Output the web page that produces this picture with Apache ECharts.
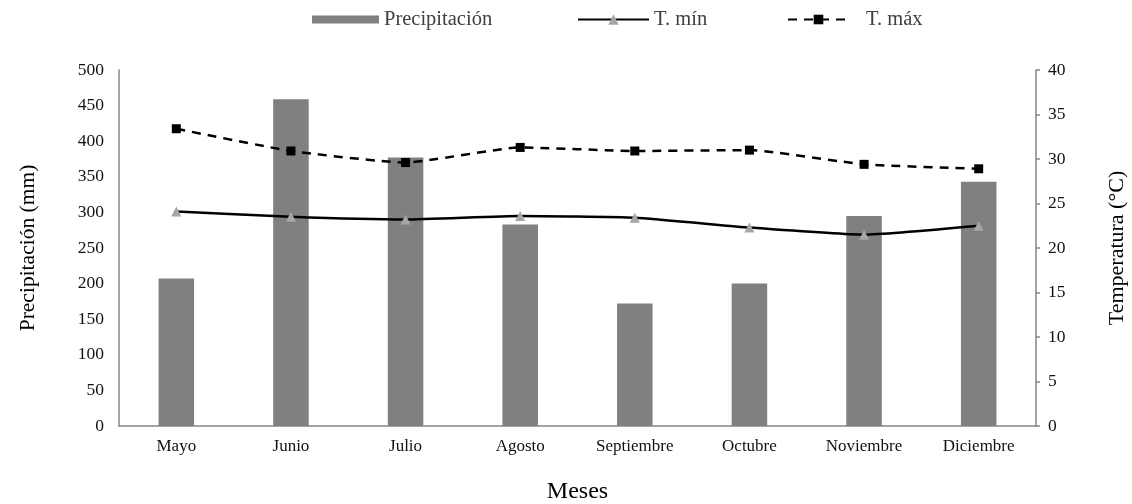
<!DOCTYPE html>
<html>
<head>
<meta charset="utf-8">
<script src="https://cdn.jsdelivr.net/npm/echarts@6/dist/echarts.min.js"></script>
<style>
  html, body { margin: 0; padding: 0; background: #fff; }
  #chart { width: 1132px; height: 504px; }
</style>
</head>
<body>
<div id="chart"></div>
<script>
// Monthly climate data
const meses = ['Mayo', 'Junio', 'Julio', 'Agosto', 'Septiembre', 'Octubre', 'Noviembre', 'Diciembre'];
const precipitacion = [207, 459, 377, 283, 172, 200, 295, 343];
const tMin = [24.1, 23.5, 23.2, 23.6, 23.4, 22.3, 21.5, 22.5];
const tMax = [33.4, 30.9, 29.6, 31.3, 30.9, 31.0, 29.4, 28.9];

const FONT = '"Liberation Serif", "Times New Roman", serif';
const AXIS_GREY = '#868686';
const legendText = { fontFamily: FONT, fontSize: 20.5, color: '#404040' };

const chart = echarts.init(document.getElementById('chart'));
chart.setOption({
  animation: false,
  textStyle: { fontFamily: FONT },
  legend: [
    { data: [{ name: 'Precipitación', icon: 'rect' }], top: 9, left: 312, padding: 0,
      itemWidth: 67, itemHeight: 8, textStyle: legendText },
    { data: ['T. mín'], top: 9, left: 577, padding: 0,
      itemWidth: 71, itemHeight: 13, textStyle: legendText },
    { data: ['T. máx'], top: 9, left: 787, padding: 0,
      itemWidth: 61, itemHeight: 12,
      textStyle: Object.assign({ padding: [0, 0, 0, 12] }, legendText) }
  ],
  grid: { left: 119, right: 96, top: 70, bottom: 78, outerBoundsMode: 'none', containLabel: false },
  xAxis: {
    type: 'category',
    data: meses,
    name: 'Meses',
    nameLocation: 'middle',
    nameGap: 54,
    nameTextStyle: { fontFamily: FONT, fontSize: 24, color: '#000' },
    axisLine: { lineStyle: { color: AXIS_GREY, width: 1.5 } },
    axisTick: { show: false },
    axisLabel: { fontFamily: FONT, fontSize: 17, color: '#111', margin: 12 }
  },
  yAxis: [
    {
      type: 'value',
      min: 0, max: 500, interval: 50,
      name: 'Precipitación (mm)',
      nameLocation: 'middle',
      nameGap: 80,
      nameTextStyle: { fontFamily: FONT, fontSize: 21.5, color: '#000' },
      axisLine: { show: true, lineStyle: { color: AXIS_GREY, width: 1.5 } },
      axisTick: { show: false },
      splitLine: { show: false },
      axisLabel: { fontFamily: FONT, fontSize: 17.5, color: '#111', margin: 15 }
    },
    {
      type: 'value',
      min: 0, max: 40, interval: 5,
      name: 'Temperatura (°C)',
      nameLocation: 'middle',
      nameGap: 70,
      nameTextStyle: { fontFamily: FONT, fontSize: 22, color: '#000' },
      axisLine: { show: true, lineStyle: { color: AXIS_GREY, width: 1.5 } },
      axisTick: { show: true, length: 4, lineStyle: { color: AXIS_GREY, width: 1.5 } },
      splitLine: { show: false },
      axisLabel: { fontFamily: FONT, fontSize: 17.5, color: '#111', margin: 12 }
    }
  ],
  series: [
    {
      name: 'Precipitación',
      type: 'bar',
      data: precipitacion,
      barWidth: '31%',
      itemStyle: { color: '#808080' }
    },
    {
      name: 'T. mín',
      type: 'line',
      yAxisIndex: 1,
      data: tMin,
      smooth: 0.15,
      symbol: 'triangle',
      symbolSize: 10,
      itemStyle: { color: '#a6a6a6' },
      lineStyle: { color: '#000', width: 2.5 }
    },
    {
      name: 'T. máx',
      type: 'line',
      yAxisIndex: 1,
      data: tMax,
      smooth: 0.15,
      symbol: 'rect',
      symbolSize: 9,
      itemStyle: { color: '#000' },
      lineStyle: { color: '#000', width: 2.5, type: [9, 7] }
    }
  ]
});
</script>
</body>
</html>
